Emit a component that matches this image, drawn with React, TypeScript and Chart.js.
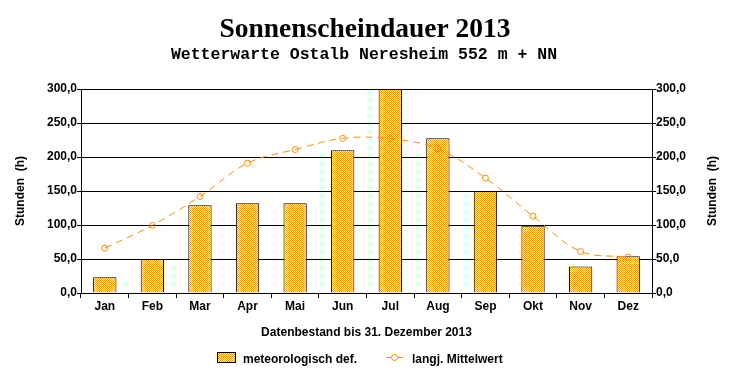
import React, { useEffect, useRef } from "react";
import { Chart, registerables } from "chart.js";

Chart.register(...registerables);

const months = ["Jan", "Feb", "Mar", "Apr", "Mai", "Jun", "Jul", "Aug", "Sep", "Okt", "Nov", "Dez"];
const sunshine2013 = [23, 50, 129, 132, 132, 210, 300, 227.5, 149.5, 99, 39, 54];
const longTermMean = [66, 99.5, 142, 191, 211, 227.5, 227, 212, 169, 113, 61, 53];
const yTicks = [0, 50, 100, 150, 200, 250, 300];

const TITLE = "Sonnenscheindauer 2013";
const SUBTITLE = "Wetterwarte Ostalb Neresheim 552 m + NN";
const X_TITLE = "Datenbestand bis 31. Dezember 2013";
const Y_TITLE = "Stunden  (h)";
const BAR_LABEL = "meteorologisch def.";
const LINE_LABEL = "langj. Mittelwert";

const ORANGE = "#FF9A00";
const LINE_ORANGE = "#FF8C00";
const SANS = "'Liberation Sans', Arial, sans-serif";

function makePattern(): CanvasPattern | string {
  const c = document.createElement("canvas");
  c.width = 2;
  c.height = 2;
  const g = c.getContext("2d");
  if (!g) return ORANGE;
  g.fillStyle = "#FFF6C8";
  g.fillRect(0, 0, 2, 2);
  g.fillStyle = ORANGE;
  g.fillRect(0, 0, 1, 1);
  g.fillRect(1, 1, 1, 1);
  const p = g.createPattern(c, "repeat");
  return p || ORANGE;
}

const fmt = (v: number) => v.toFixed(1).replace(".", ",");

export default function App() {
  const ref = useRef<HTMLCanvasElement | null>(null);

  useEffect(() => {
    const canvas = ref.current;
    if (!canvas) return;
    const pattern = makePattern();

    const decor = {
      id: "decor",
      afterDraw(chart: any) {
        const ctx = chart.ctx as CanvasRenderingContext2D;
        const area = chart.chartArea;
        const cx = (area.left + area.right) / 2;
        const cy = (area.top + area.bottom) / 2;
        ctx.save();
        ctx.fillStyle = "#000";
        // title
        ctx.textAlign = "center";
        ctx.textBaseline = "alphabetic";
        ctx.font = "bold 27.5px 'Liberation Serif', 'Times New Roman', serif";
        ctx.fillText(TITLE, 365, 36.5);
        // subtitle
        ctx.font = "bold 16.5px 'Liberation Mono', 'Courier New', monospace";
        ctx.fillText(SUBTITLE, 364, 58.5);
        // x title
        ctx.font = "bold 12px " + SANS;
        ctx.textBaseline = "middle";
        ctx.fillText(X_TITLE, cx, 332.5);
        // y titles
        ctx.save();
        ctx.translate(20.5, cy);
        ctx.rotate(-Math.PI / 2);
        ctx.fillText(Y_TITLE, 0, 0);
        ctx.restore();
        ctx.save();
        ctx.translate(712.5, cy);
        ctx.rotate(-Math.PI / 2);
        ctx.fillText(Y_TITLE, 0, 0);
        ctx.restore();
        // legend
        const ly = 358;
        ctx.fillStyle = pattern as any;
        ctx.fillRect(217, ly - 6, 19, 11);
        ctx.strokeStyle = "#000";
        ctx.lineWidth = 1;
        ctx.strokeRect(217.5, ly - 5.5, 18, 10);
        ctx.fillStyle = "#000";
        ctx.textAlign = "left";
        ctx.fillText(BAR_LABEL, 243, ly + 1.5);
        ctx.strokeStyle = LINE_ORANGE;
        ctx.setLineDash([7, 3]);
        ctx.beginPath();
        ctx.moveTo(386, ly - 0.5);
        ctx.lineTo(404, ly - 0.5);
        ctx.stroke();
        ctx.setLineDash([]);
        ctx.beginPath();
        ctx.fillStyle = "#fff";
        ctx.arc(394.5, ly - 0.5, 3, 0, Math.PI * 2);
        ctx.fill();
        ctx.stroke();
        ctx.fillStyle = "#000";
        ctx.fillText(LINE_LABEL, 412, ly + 1.5);
        ctx.restore();
      },
    };

    const tickFont = { family: SANS, size: 12, weight: "bold" as const };

    const chart = new Chart(canvas, {
      type: "bar",
      data: {
        labels: months,
        datasets: [
          {
            type: "line",
            label: LINE_LABEL,
            data: longTermMean,
            borderColor: LINE_ORANGE,
            borderWidth: 1,
            borderDash: [7, 5],
            tension: 0.35,
            pointRadius: 3,
            pointBorderWidth: 1,
            pointBorderColor: LINE_ORANGE,
            pointBackgroundColor: "rgba(255,255,255,0)",
            fill: false,
            yAxisID: "y",
            order: 0,
          } as any,
          {
            type: "bar",
            label: BAR_LABEL,
            data: sunshine2013,
            backgroundColor: pattern as any,
            borderColor: "#000",
            borderWidth: 1,
            borderSkipped: "bottom",
            categoryPercentage: 1,
            barPercentage: 0.49,
            yAxisID: "y",
            order: 1,
          } as any,
        ],
      },
      options: {
        responsive: false,
        animation: false,
        devicePixelRatio: 1,
        layout: { padding: { top: 89, left: 0, right: 0, bottom: 0 } },
        plugins: {
          legend: { display: false },
          title: { display: false },
          tooltip: { enabled: false },
        },
        scales: {
          x: {
            type: "category",
            offset: true,
            grid: {
              offset: true,
              drawOnChartArea: false,
              drawTicks: true,
              tickLength: 5,
              color: "#000",
            },
            border: { display: true, color: "#000", width: 1 },
            ticks: { font: tickFont, color: "#000", padding: 1, maxRotation: 0 },
            afterFit: (s: any) => {
              s.height = 87;
            },
          },
          y: {
            type: "linear",
            position: "left",
            min: 0,
            max: 300,
            afterBuildTicks: (s: any) => {
              s.ticks = yTicks.map((v) => ({ value: v }));
            },
            grid: { color: "#000", lineWidth: 1, tickLength: 4, drawTicks: true },
            border: { display: true, color: "#000", width: 1 },
            ticks: { font: tickFont, color: "#000", padding: 0, callback: (v: any) => fmt(Number(v)) },
            afterFit: (s: any) => {
              s.width = 81;
            },
          },
          y2: {
            type: "linear",
            position: "right",
            min: 0,
            max: 300,
            afterBuildTicks: (s: any) => {
              s.ticks = yTicks.map((v) => ({ value: v }));
            },
            grid: { drawOnChartArea: false, color: "#000", tickLength: 4, drawTicks: true },
            border: { display: true, color: "#000", width: 1 },
            ticks: { font: tickFont, color: "#000", padding: 0, callback: (v: any) => fmt(Number(v)) },
            afterFit: (s: any) => {
              s.width = 80;
            },
          },
        },
      },
      plugins: [decor],
    });

    return () => chart.destroy();
  }, []);

  return (
    <div style={{ position: "fixed", left: 0, top: 0, width: 732, height: 380, background: "#fff" }}>
      <canvas ref={ref} width={732} height={380} style={{ display: "block", width: 732, height: 380 }} />
    </div>
  );
}
